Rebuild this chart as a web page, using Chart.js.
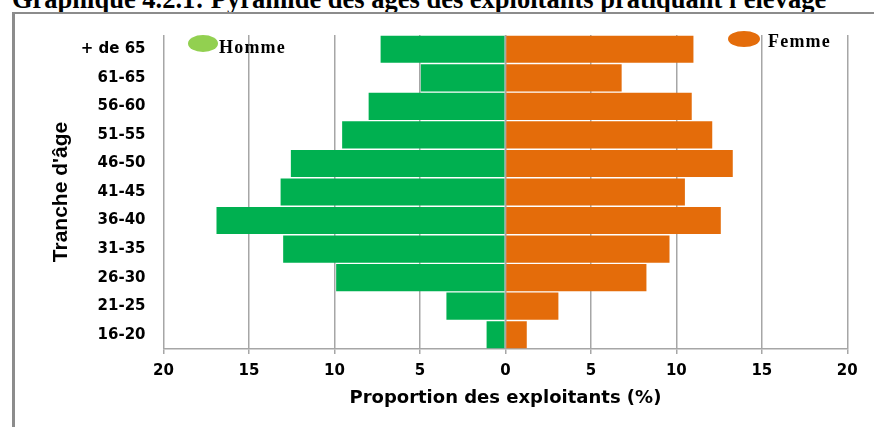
<!DOCTYPE html>
<html><head><meta charset="utf-8">
<script src="https://cdn.jsdelivr.net/npm/chart.js@4/dist/chart.umd.min.js"></script>
<style>
html,body{margin:0;padding:0;background:#fff;overflow:hidden;}
#wrap{position:relative;width:874px;height:427px;overflow:hidden;}
#title{position:absolute;left:12px;top:-14px;font:bold 26.5px "Liberation Serif","Times New Roman",serif;line-height:26.5px;white-space:nowrap;color:#000;}
#frame{position:absolute;left:12px;top:12px;width:900px;height:500px;border-left:3px solid #8c8c8c;border-top:2px solid #8c8c8c;}
canvas{position:absolute;left:0;top:0;}
</style></head><body>
<div id="wrap">
<div id="title">Graphique 4.2.1: Pyramide des âges des exploitants pratiquant l'élevage</div>
<div id="frame"></div>
<canvas id="c" width="874" height="427" style="width:874px;height:427px"></canvas>
</div>
<script>
const categories = ['+ de 65','61-65','56-60','51-55','46-50','41-45','36-40','31-35','26-30','21-25','16-20'];
const homme = [7.3, 4.95, 8.0, 9.55, 12.55, 13.15, 16.9, 13.0, 9.9, 3.45, 1.1];
const femme = [11.0, 6.8, 10.9, 12.1, 13.3, 10.5, 12.6, 9.6, 8.25, 3.1, 1.25];
const seriesNames = ['Homme', 'Femme'];
const xTickValues = [-20, -15, -10, -5, 0, 5, 10, 15, 20];

const GRID = '#a6a6a6';

const legendPlugin = {
  id: 'ellipseLegend',
  afterDraw(chart, args, opts) {
    const ctx = chart.ctx;
    ctx.save();
    opts.items.forEach((it, i) => {
      const ds = chart.data.datasets[i];
      ctx.fillStyle = it.marker;
      ctx.beginPath();
      ctx.ellipse(it.cx, it.cy, it.rx, it.ry, 0, 0, Math.PI * 2);
      ctx.fill();
      ctx.fillStyle = '#000';
      ctx.font = 'bold 18px "Liberation Serif", "Times New Roman", serif';
      ctx.letterSpacing = '1.2px';
      ctx.textBaseline = 'alphabetic';
      ctx.textAlign = 'left';
      ctx.fillText(ds.label, it.tx, it.ty);
    });
    ctx.restore();
  }
};

const zeroLinePlugin = {
  id: 'zeroLine',
  afterDatasetsDraw(chart) {
    const ctx = chart.ctx, a = chart.chartArea;
    const x = chart.scales.x.getPixelForValue(0);
    ctx.save();
    ctx.strokeStyle = GRID;
    ctx.lineWidth = 1.5;
    ctx.beginPath();
    ctx.moveTo(x, a.top);
    ctx.lineTo(x, a.bottom);
    ctx.stroke();
    ctx.restore();
  }
};

new Chart(document.getElementById('c'), {
  type: 'bar',
  data: {
    labels: categories,
    datasets: [
      { label: seriesNames[0], data: homme.map(v => -v), backgroundColor: '#00b050', borderWidth: 0, barPercentage: 0.95, categoryPercentage: 1.0 },
      { label: seriesNames[1], data: femme, backgroundColor: '#e46c0a', borderWidth: 0, barPercentage: 0.95, categoryPercentage: 1.0 }
    ]
  },
  options: {
    indexAxis: 'y',
    responsive: false,
    animation: false,
    layout: { padding: { left: 0, top: 35, right: 26.7, bottom: 0 } },
    plugins: {
      legend: { display: false },
      tooltip: { enabled: false },
      title: { display: false },
      ellipseLegend: {
        items: [
          { marker: '#92d050', cx: 203, cy: 43.5, rx: 15, ry: 8.5, tx: 219, ty: 53 },
          { marker: '#e46c0a', cx: 744, cy: 39, rx: 16, ry: 8, tx: 768, ty: 47 }
        ]
      }
    },
    scales: {
      x: {
        type: 'linear',
        stacked: true,
        min: -20, max: 20,
        afterBuildTicks: s => { s.ticks = xTickValues.map(v => ({ value: v })); },
        afterFit: s => { s.height = 78; },
        ticks: {
          callback: v => String(Math.abs(v)),
          font: { family: '"DejaVu Sans"', weight: 'bold', size: 15 },
          color: '#000',
          padding: 8
        },
        grid: { color: GRID, lineWidth: 1.5, tickLength: 5, drawTicks: true },
        border: { display: true, color: GRID, width: 1.5 },
        title: {
          display: true,
          text: 'Proportion des exploitants (%)',
          font: { family: '"DejaVu Sans"', weight: 'bold', size: 18 },
          color: '#000',
          padding: { top: 0, bottom: 18 }
        }
      },
      y: {
        stacked: true,
        afterFit: s => { s.width = 163.5; },
        ticks: {
          font: { family: '"DejaVu Sans"', weight: 'bold', size: 15 },
          color: '#000',
          padding: 18
        },
        grid: { display: false, drawTicks: false },
        border: { display: false },
        title: {
          display: true,
          text: "Tranche d'âge",
          font: { family: '"Liberation Sans Narrow", "Arial Narrow", sans-serif', weight: 'bold', size: 21 },
          color: '#000',
          padding: { top: 49, bottom: 0 }
        }
      }
    }
  },
  plugins: [legendPlugin, zeroLinePlugin]
});
</script>
</body></html>
